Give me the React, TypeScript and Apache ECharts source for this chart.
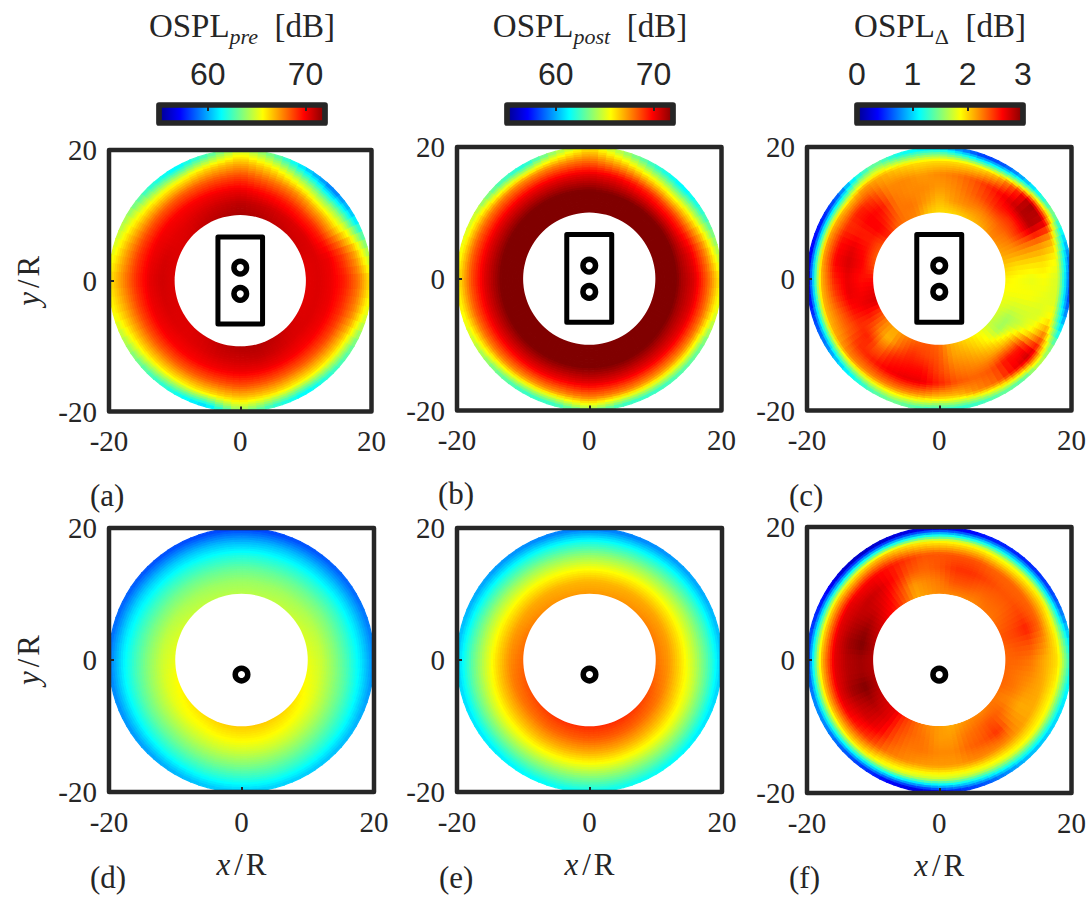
import React, { useEffect, useRef } from "react";
import * as echarts from "echarts";

const jetStops = ["#00008f", "#0000ff", "#00ffff", "#ffff00", "#ff0000", "#800000"];
const jetOffsets = [0, 0.125, 0.375, 0.625, 0.875, 1];
const axisTicks = [-20, 0, 20];
const dbTicks = [60, 70];
const deltaTicks = [0, 1, 2, 3];
const coarseRadii = [10, 12, 14, 16, 18, 20];

const ospl_pre_a = [
  [70.2,70.2,70.5,70.6,70.8,71,71.2,71,70.8,70.5,70.3,70.3,70.3,70.3,70.3,70.3,70.5,70.8,71,71,70.8,70.5,70.3,70.2],
  [70.3,70.3,70.3,70.3,70.4,70.6,70.8,70.6,70.4,70.2,70.2,70.4,70.5,70.4,70.3,70.2,70.3,70.5,70.6,70.7,70.5,70.3,70.3,70.3],
  [70,70,69.2,69,69.3,69.6,70,69.9,69.8,69.8,69.9,70,70.1,70,69.9,69.8,69.8,69.9,70,70,69.9,69.8,69.9,70],
  [69.3,68.8,67,66.8,67.5,68,68.7,68.4,68.2,68.2,68.4,68.8,69,68.7,68.4,68.2,68.2,68.3,68.6,68.4,68.2,68.3,68.6,69],
  [68,67,64.5,63.5,64.5,66,67,66.3,65.5,65.6,66.2,67,67.5,67,66.4,66,65.8,66,66.5,66.2,65.8,66,66.4,67.5],
  [66,64,60.5,59,60.5,63,65,62.5,61,62,64,65,66,65.5,64,62.5,61.5,60.5,64,62,61,62,63,65],
];
const ospl_post_b = [
  [74,74,74,74,74,74,74,74,74,74,74,74,74,74,74,74,74,74,74,74,74,74,74,74],
  [72.8,72.8,72.8,72.8,72.8,72.8,72.8,72.8,72.8,72.8,72.8,72.8,72.8,72.8,72.8,72.8,72.8,72.8,72.8,72.8,72.8,72.8,72.8,72.8],
  [71.2,71.1,71,70.9,71,71.2,71.4,71.4,71.4,71.4,71.4,71.4,71.4,71.4,71.4,71.4,71.4,71.4,71.5,71.5,71.4,71.3,71.2,71.2],
  [70.3,69.9,69,68.8,69.2,69.8,70.1,70,69.9,69.9,70,70.1,70.2,70.1,70,69.9,69.9,69.9,70.1,70,69.9,69.9,70,70.2],
  [68.2,67.5,66,65.2,65.8,67,68,67.6,67.3,67.5,67.8,68.2,68.4,68.2,67.8,67.5,67.2,67.3,67.8,67.5,67.2,67.2,67.5,68],
  [65.7,64,62,61,62,64,66,64,61.5,62.5,64.5,65.2,65.7,65.5,64.5,63,62,62,64,62,62,62.5,63,65],
];
const ospl_delta_c = [
  [1.9,2.0,2.1,2.15,2.2,2.1,2.05,2.0,1.95,1.95,2.0,2.2,2.25,2.3,2.5,2.35,2.3,2.35,2.55,2.65,2.7,2.4,2.2,2.1,2.2,2.3,2.35,2.3,2.1,2.0,1.9,1.8,1.7,1.75,1.8,1.85],
  [1.85,1.95,2.15,2.25,2.3,2.25,2.2,2.2,2.15,2.05,2.15,2.25,2.25,2.45,2.6,2.5,2.55,2.6,2.55,2.6,2.65,2.5,2.25,2.05,2.3,2.45,2.4,2.35,2.15,2.1,2.0,1.85,1.6,1.6,1.75,1.85],
  [1.8,1.95,2.2,2.5,2.45,2.5,2.4,2.3,2.2,2.15,2.2,2.2,2.25,2.55,2.6,2.5,2.65,2.7,2.65,2.65,2.55,2.45,2.5,2.3,2.5,2.55,2.55,2.4,2.25,2.2,2.15,2.1,2.0,1.7,1.75,1.85],
  [1.85,1.95,2.2,2.8,2.8,2.65,2.5,2.35,2.25,2.2,2.15,2.2,2.2,2.4,2.5,2.45,2.55,2.6,2.5,2.4,2.3,2.3,2.45,2.5,2.6,2.65,2.65,2.5,2.35,2.3,2.35,2.55,2.5,1.9,1.75,1.8],
  [1.75,1.85,2.1,2.75,2.85,2.4,2.05,1.95,1.95,1.95,1.95,2.0,2.1,2.15,2.0,2.05,2.1,2.1,2.05,2.05,2.05,2.1,2.2,2.2,2.2,2.2,2.15,2.05,2.05,2.2,2.3,2.6,2.75,2.3,1.9,1.75],
  [0.55,0.7,1.0,1.4,1.05,0.8,0.55,0.45,0.7,1.0,1.05,1.15,1.4,1.1,0.6,0.4,0.3,0.25,0.25,0.3,0.5,0.65,0.9,1.1,1.3,1.4,1.3,1.2,1.2,1.25,1.35,1.3,1.6,1.4,0.9,0.55],
];
const ospl_pre_d = [
  [65.3,65.1,64.9,64.7,64.6,64.5,64.5,64.5,64.6,64.7,64.9,65.1,65.3,65.6,65.8,66,66.2,66.4,66.5,66.5,66.4,66.2,65.9,65.6],
  [64.8,64.6,64.4,64.2,64.1,64,64,64,64.1,64.2,64.4,64.6,64.8,65,65.2,65.4,65.5,65.7,65.8,65.8,65.7,65.5,65.3,65],
  [63.8,63.6,63.5,63.3,63.2,63.1,63.1,63.1,63.2,63.3,63.4,63.6,63.8,64,64.2,64.3,64.5,64.7,64.8,64.8,64.7,64.5,64.3,64],
  [62.6,62.4,62.3,62.1,62,61.9,61.9,61.9,62,62.1,62.2,62.4,62.6,62.8,63,63.1,63.3,63.5,63.6,63.6,63.5,63.3,63.1,62.9],
  [61.2,61,60.8,60.6,60.5,60.4,60.3,60.4,60.5,60.6,60.8,61,61.2,61.4,61.5,61.7,61.9,62.1,62.2,62.3,62.2,62,61.8,61.5],
  [59.5,59.3,59,58.8,58.6,58.4,58.3,58.4,58.5,58.6,58.8,59,59.3,59.5,59.7,59.9,60.2,60.5,60.6,60.7,60.6,60.4,60.2,59.8],
];
const ospl_post_e = [
  [67.9,67.8,67.7,67.5,67.4,67.3,67.3,67.3,67.4,67.5,67.7,67.9,68.1,68.3,68.5,68.7,68.9,69,69.1,69.1,69,68.8,68.5,68.2],
  [67.3,67.2,67.1,67,66.9,66.8,66.8,66.8,66.9,67,67.1,67.3,67.5,67.7,67.8,67.9,68.1,68.2,68.3,68.3,68.2,68,67.8,67.5],
  [66,65.9,65.8,65.7,65.6,65.5,65.5,65.5,65.6,65.7,65.8,66,66.2,66.4,66.5,66.6,66.8,66.9,67,67,66.9,66.7,66.5,66.2],
  [64.5,64.3,64.2,64,63.9,63.8,63.8,63.8,63.9,64,64.2,64.4,64.6,64.8,65,65.1,65.2,65.3,65.4,65.4,65.3,65.2,65,64.8],
  [62.7,62.5,62.3,62.1,61.9,61.8,61.8,61.8,61.9,62,62.2,62.5,62.8,63,63.1,63.2,63.3,63.4,63.5,63.5,63.4,63.3,63.1,62.9],
  [60.5,60.3,60,59.8,59.5,59.3,59.2,59.3,59.5,59.7,60,60.3,60.6,60.8,61,61.1,61.3,61.5,61.6,61.6,61.5,61.3,61,60.7],
];
const ospl_delta_f = [
  [2.3,2.3,2.35,2.3,2.25,2.25,2.2,2.2,2.2,2.2,2.15,2.1,2.3,2.5,2.6,2.7,2.75,2.8,2.8,2.8,2.8,2.75,2.7,2.65,2.45,2.3,2.2,2.15,2.1,2.15,2.2,2.2,2.25,2.25,2.3,2.3],
  [2.3,2.35,2.4,2.35,2.3,2.3,2.3,2.35,2.35,2.25,2.2,2.15,2.4,2.6,2.7,2.8,2.9,2.95,2.85,2.85,2.95,2.85,2.75,2.65,2.4,2.3,2.25,2.15,2.15,2.25,2.3,2.35,2.3,2.2,2.25,2.25],
  [2.25,2.35,2.5,2.4,2.35,2.35,2.4,2.45,2.45,2.35,2.3,2.35,2.55,2.7,2.75,2.75,2.8,2.85,2.8,2.8,2.85,2.75,2.7,2.6,2.35,2.25,2.25,2.2,2.2,2.3,2.35,2.45,2.2,2.1,2.15,2.2],
  [2.1,2.2,2.3,2.3,2.3,2.3,2.3,2.35,2.35,2.35,2.35,2.45,2.55,2.6,2.6,2.65,2.65,2.65,2.65,2.65,2.65,2.6,2.5,2.4,2.25,2.2,2.15,2.15,2.15,2.2,2.2,2.2,2.15,2.1,2.1,2.1],
  [1.95,1.9,1.85,1.9,1.85,1.8,1.8,1.85,1.85,1.85,1.9,1.95,2.0,1.95,1.9,1.95,1.95,1.95,2.0,2.0,2.0,1.95,1.95,1.9,1.8,1.75,1.7,1.7,1.7,1.7,1.75,1.8,1.85,1.85,1.85,1.9],
  [1.2,1.0,0.7,0.5,0.45,0.4,0.4,0.35,0.25,0.25,0.2,0.15,0.1,0.08,0.15,0.3,0.4,0.5,0.5,0.6,0.7,0.7,0.6,0.5,0.4,0.25,0.2,0.3,0.45,0.55,0.7,0.85,0.9,0.95,1.0,1.1],
];

const rectX = [-3.4, 3.4, 3.4, -3.4, -3.4];
const rectY = [6.7, 6.7, -6.6, -6.6, 6.7];
const twinRotors = [[0, 2], [0, -2]];
const singleRotor = [[0, -2.2]];
const frameX = [-20, 20, 20, -20, -20];
const frameY = [20, 20, -20, -20, 20];
const holeRadius = 10;
const dbRange = [55.3, 71.8];
const deltaRange = [0.05, 2.95];

const panelLetters = ["(a)", "(b)", "(c)", "(d)", "(e)", "(f)"];
const barTitles = [
  "{a|OSPL}{i|pre}{a|  [dB]}",
  "{a|OSPL}{i|post}{a|  [dB]}",
  "{a|OSPL}{u|Δ}{a|  [dB]}",
];

const INK = "#262626";
const SERIF = "Liberation Serif";
const SANS = "Liberation Sans";

const panelBoxes = [
  { left: 109, top: 150, width: 262.5, height: 261.5 },
  { left: 457, top: 147, width: 264.5, height: 263.5 },
  { left: 807, top: 147, width: 264.5, height: 263.5 },
  { left: 109, top: 528, width: 265, height: 264 },
  { left: 457, top: 528, width: 265, height: 264 },
  { left: 807, top: 527, width: 267, height: 266 },
];
const barBoxes = [
  { left: 159, top: 105, width: 166, height: 18 },
  { left: 507, top: 105, width: 166, height: 18 },
  { left: 857, top: 105, width: 166, height: 18 },
];
const letterPos = [[90, 497], [438, 495], [789, 497], [90, 879], [439, 879], [789, 879]];

function jet(v: number, range: number[]) {
  const p = Math.max(0, Math.min(1, (v - range[0]) / (range[1] - range[0])));
  let k = 0;
  while (k < jetOffsets.length - 2 && p > jetOffsets[k + 1]) k++;
  const t = (p - jetOffsets[k]) / (jetOffsets[k + 1] - jetOffsets[k]);
  const c0 = echarts.color.parse(jetStops[k]);
  const c1 = echarts.color.parse(jetStops[k + 1]);
  const m = [0, 1, 2].map((q) => Math.round(c0[q] + (c1[q] - c0[q]) * t));
  return `rgb(${m[0]},${m[1]},${m[2]})`;
}

function meshSeries(rows: number[][], radii: number[], range: number[], idx: number) {
  const nA = rows[0].length;
  const nR = rows.length;
  const NU = nA > 24 ? 3 : 4;
  const NV = 6;
  const data: number[][] = [];
  for (let r = 0; r < nR - 1; r++) for (let a = 0; a < nA; a++) data.push([a, r]);
  return {
    type: "custom",
    xAxisIndex: idx,
    yAxisIndex: idx,
    silent: true,
    clip: false,
    z: 2,
    data,
    renderItem: (_: any, api: any) => {
      const ia = api.value(0);
      const ir = api.value(1);
      const ib = (ia + 1) % nA;
      const mix = (a: number, b: number, c: number, d: number, u: number, v: number) =>
        (a * (1 - u) + b * u) * (1 - v) + (c * (1 - u) + d * u) * v;
      const at = (u: number, v: number) => {
        const th = ((ia + u) * 2 * Math.PI) / nA;
        const r = radii[ir] + (radii[ir + 1] - radii[ir]) * v;
        return api.coord([r * Math.cos(th), r * Math.sin(th)]);
      };
      const children: any[] = [];
      for (let i = 0; i < NU; i++) {
        for (let j = 0; j < NV; j++) {
          const u0 = i / NU, u1 = (i + 1) / NU, v0 = j / NV, v1 = (j + 1) / NV;
          const val = mix(rows[ir][ia], rows[ir][ib], rows[ir + 1][ia], rows[ir + 1][ib], (u0 + u1) / 2, (v0 + v1) / 2);
          const col = jet(val, range);
          children.push({
            type: "polygon",
            silent: true,
            shape: { points: [at(u0, v0), at(u1, v0), at(u1, v1), at(u0, v1)] },
            style: { fill: col, stroke: col, lineWidth: 1.2 },
          });
        }
      }
      return { type: "group", children };
    },
  };
}

function holeSeries(idx: number) {
  return {
    type: "custom",
    xAxisIndex: idx,
    yAxisIndex: idx,
    silent: true,
    clip: false,
    z: 3,
    data: [[0, 0, holeRadius]],
    renderItem: (_: any, api: any) => {
      const c = api.coord([api.value(0), api.value(1)]);
      const s = api.size([api.value(2), 0]);
      return { type: "circle", shape: { cx: c[0], cy: c[1], r: s[0] }, style: { fill: "#ffffff" } };
    },
  };
}

function outline(xs: number[], ys: number[], idx: number, width: number, color: string, z: number) {
  return {
    type: "line",
    xAxisIndex: idx,
    yAxisIndex: idx,
    silent: true,
    clip: false,
    z,
    showSymbol: false,
    symbol: "none",
    data: xs.map((x, i) => [x, ys[i]]),
    lineStyle: { width, color, join: "round", cap: "round" },
  };
}

function rotors(points: number[][], idx: number) {
  return {
    type: "scatter",
    xAxisIndex: idx,
    yAxisIndex: idx,
    silent: true,
    clip: false,
    z: 6,
    symbol: "circle",
    symbolSize: 12.6,
    data: points,
    itemStyle: { color: "#ffffff", borderColor: "#000000", borderWidth: 5.5, opacity: 1 },
  };
}

function barSeries(idx: number, range: number[]) {
  return {
    type: "custom",
    xAxisIndex: idx,
    yAxisIndex: idx,
    silent: true,
    clip: false,
    z: 2,
    data: [[range[0], range[1]]],
    renderItem: (_: any, api: any) => {
      const a = api.coord([api.value(0), 0]);
      const b = api.coord([api.value(1), 1]);
      return {
        type: "rect",
        shape: { x: a[0], y: b[1], width: b[0] - a[0], height: a[1] - b[1] },
        style: {
          fill: new echarts.graphic.LinearGradient(
            0, 0, 1, 0,
            jetStops.map((color, i) => ({ offset: jetOffsets[i], color }))
          ),
        },
      };
    },
  };
}

const panelsData = [
  { rows: ospl_pre_a, range: dbRange },
  { rows: ospl_post_b, range: dbRange },
  { rows: ospl_delta_c, range: deltaRange },
  { rows: ospl_pre_d, range: dbRange },
  { rows: ospl_post_e, range: dbRange },
  { rows: ospl_delta_f, range: deltaRange },
];

function buildOption() {
  const grid: any[] = [];
  const xAxis: any[] = [];
  const yAxis: any[] = [];
  const series: any[] = [];
  const italicName = (letter: string) => `{i|${letter}}{s|/}{a|R}`;
  const nameRich = {
    a: { fontFamily: SERIF, fontSize: 31, color: INK },
    s: { fontFamily: SERIF, fontSize: 31, color: INK, padding: [0, 3, 0, 4] },
    i: { fontFamily: SERIF, fontSize: 31, fontStyle: "italic", color: INK },
  };
  panelBoxes.forEach((box, idx) => {
    grid.push({ ...box, show: false });
    const leftCol = idx % 3 === 0;
    const bottomRow = idx >= 3;
    const common = {
      type: "value",
      min: -20,
      max: 20,
      interval: 20,
      gridIndex: idx,
      z: 8,
      splitLine: { show: false },
      axisLine: { show: false, onZero: false },
      axisTick: { show: true, inside: true, length: 5, lineStyle: { color: INK, width: 2 }, customValues: axisTicks },
    };
    xAxis.push({
      ...common,
      position: "bottom",
      axisLabel: { margin: 15, fontFamily: SERIF, fontSize: 29, color: INK, customValues: axisTicks },
      ...(bottomRow
        ? {
            name: italicName("x"),
            nameLocation: "center",
            nameGap: 57,
            nameTextStyle: { rich: nameRich },
          }
        : {}),
    });
    yAxis.push({
      ...common,
      position: "left",
      axisLabel: { margin: 12, fontFamily: SERIF, fontSize: 29, color: INK, customValues: axisTicks },
      ...(leftCol
        ? {
            name: italicName("y"),
            nameLocation: "center",
            nameRotate: 90,
            nameGap: 65,
            nameTextStyle: { rich: nameRich },
          }
        : {}),
    });
    const pd = panelsData[idx];
    series.push(meshSeries(pd.rows, coarseRadii, pd.range, idx));
    series.push(holeSeries(idx));
    series.push(outline(frameX, frameY, idx, 4.5, INK, 5));
    if (!bottomRow) {
      series.push(outline(rectX, rectY, idx, 5, "#000000", 6));
      series.push(rotors(twinRotors, idx));
    } else {
      series.push(rotors(singleRotor, idx));
    }
  });

  barBoxes.forEach((box, b) => {
    const idx = 6 + b;
    grid.push({ ...box, show: false });
    const isDelta = b === 2;
    const ticks = isDelta ? deltaTicks : dbTicks;
    const min = isDelta ? 0 : 55;
    const max = isDelta ? 3 : 72;
    xAxis.push({
      type: "value",
      gridIndex: idx,
      min,
      max,
      position: "top",
      z: 8,
      splitLine: { show: false },
      axisLine: { show: false, onZero: false },
      axisTick: { show: true, inside: true, length: 6, lineStyle: { color: INK, width: 2 }, customValues: ticks },
      axisLabel: { margin: 15, fontFamily: SANS, fontSize: 32, color: INK, customValues: ticks },
      name: barTitles[b],
      nameLocation: "center",
      nameGap: 58,
      nameTextStyle: {
        rich: {
          a: { fontFamily: SERIF, fontSize: 33, color: INK, lineHeight: 42 },
          i: { fontFamily: SERIF, fontSize: 22, fontStyle: "italic", color: INK, lineHeight: 22, verticalAlign: "bottom" },
          u: { fontFamily: SERIF, fontSize: 22, color: INK, lineHeight: 22, verticalAlign: "bottom" },
        },
      },
    });
    yAxis.push({ type: "value", gridIndex: idx, min: 0, max: 1, show: false });
    series.push(barSeries(idx, [min, max]));
    series.push(outline([min, max, max, min, min], [1, 1, 0, 0, 1], idx, 5.7, INK, 5));
  });

  const graphic = panelLetters.map((text, i) => ({
    type: "text",
    left: letterPos[i][0],
    top: letterPos[i][1] - 17,
    style: { text, fontFamily: SERIF, fontSize: 31, fill: INK },
  }));

  return { animation: false, backgroundColor: "#ffffff", grid, xAxis, yAxis, series, graphic };
}

export default function App() {
  const ref = useRef<HTMLDivElement>(null);
  useEffect(() => {
    const chart = echarts.init(ref.current!, undefined, { renderer: "svg" });
    chart.setOption(buildOption() as any);
    return () => chart.dispose();
  }, []);
  return <div ref={ref} style={{ position: "fixed", left: 0, top: 0, width: 1089, height: 899 }} />;
}
